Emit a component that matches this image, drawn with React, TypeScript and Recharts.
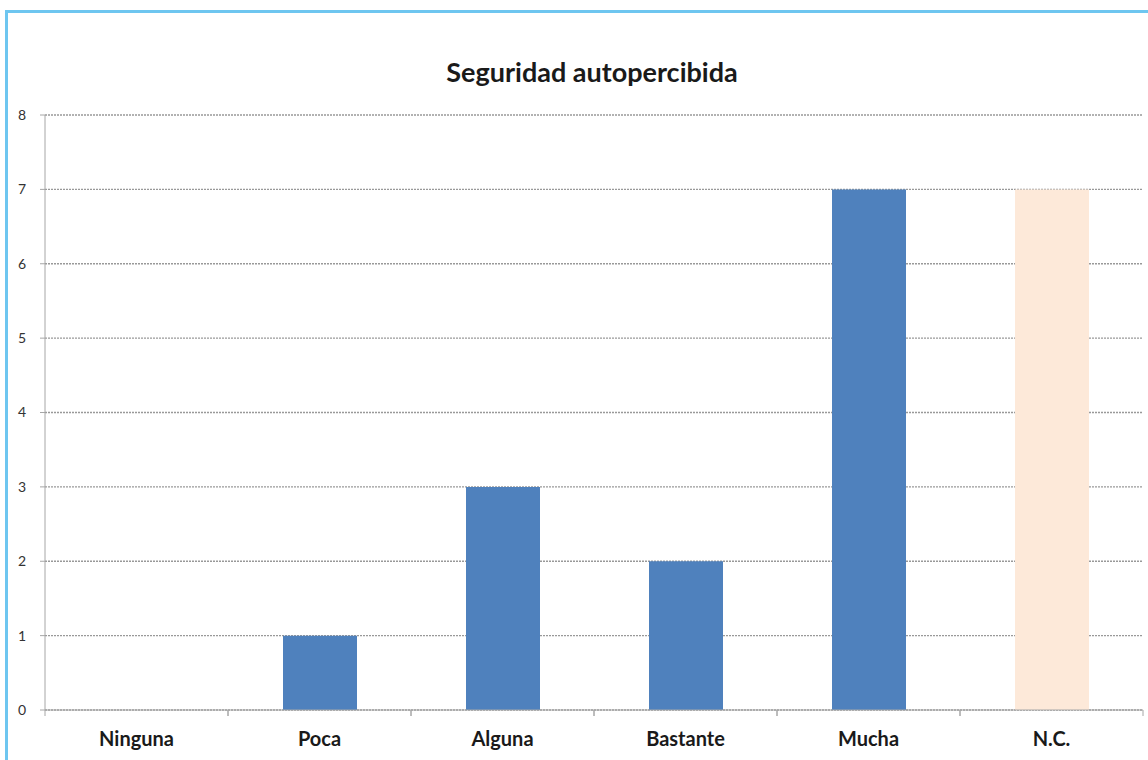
import { BarChart, Bar, XAxis, YAxis, CartesianGrid, Cell } from "recharts";

const categories = ["Ninguna", "Poca", "Alguna", "Bastante", "Mucha", "N.C."];
const values = [0, 1, 3, 2, 7, 7];
const yTicks = [0, 1, 2, 3, 4, 5, 6, 7, 8];
const barColors = ["#4f81bd", "#4f81bd", "#4f81bd", "#4f81bd", "#4f81bd", "#fde9d9"];

const data = categories.map((name, i) => ({ name, value: values[i] }));

const W = 1148;
const H = 760;
const PLOT_LEFT = 45;
const PLOT_RIGHT = 1143;
const BAND = (PLOT_RIGHT - PLOT_LEFT) / categories.length;

function CategoryTick(props: any) {
  const { x, y, payload } = props;
  const axisY = y - 8;
  return (
    <g>
      <line x1={x - BAND / 2} x2={x - BAND / 2} y1={axisY} y2={axisY + 6} stroke="#a6a6a6" />
      <line x1={x + BAND / 2} x2={x + BAND / 2} y1={axisY} y2={axisY + 6} stroke="#a6a6a6" />
      <text
        x={x}
        y={axisY + 36}
        textAnchor="middle"
        fontFamily="Lato, sans-serif"
        fontWeight="bold"
        fontSize={20}
        fill="#1a1a1a"
      >
        {payload.value}
      </text>
    </g>
  );
}

export default function App() {
  return (
    <div
      style={{
        position: "absolute",
        left: 0,
        top: 0,
        width: W,
        height: H,
        background: "#fff",
        overflow: "hidden",
      }}
    >
      <div
        style={{
          position: "absolute",
          left: 5,
          top: 10,
          width: W,
          height: H,
          borderLeft: "3px solid #6ec6f0",
          borderTop: "3px solid #6ec6f0",
          boxSizing: "border-box",
        }}
      />
      <div
        style={{
          position: "absolute",
          left: 0,
          width: W + 36,
          top: 55,
          textAlign: "center",
          fontFamily: "Lato, sans-serif",
          fontWeight: "bold",
          fontSize: 27,
          color: "#1a1a1a",
        }}
      >
        Seguridad autopercibida
      </div>
      <div style={{ position: "absolute", left: 0, top: 0 }}>
        <BarChart
          width={W}
          height={H}
          data={data}
          margin={{ top: 115, right: W - PLOT_RIGHT, bottom: 10, left: 15 }}
        >
          <CartesianGrid
            vertical={false}
            stroke="#999"
            strokeWidth={1.3}
            strokeDasharray="2 1"
          />
          <XAxis
            dataKey="name"
            height={40}
            axisLine={{ stroke: "#a6a6a6" }}
            tickLine={false}
            interval={0}
            tick={<CategoryTick />}
          />
          <YAxis
            width={30}
            domain={[0, 8]}
            ticks={yTicks}
            interval={0}
            axisLine={{ stroke: "#a6a6a6" }}
            tickLine={{ stroke: "#a6a6a6" }}
            tickSize={5}
            tickMargin={14}
            tick={{ fontFamily: "Lato, sans-serif", fontSize: 14, fill: "#333" }}
          />
          <Bar dataKey="value" barSize={74} isAnimationActive={false}>
            {data.map((d, i) => (
              <Cell key={d.name} fill={barColors[i]} />
            ))}
          </Bar>
        </BarChart>
      </div>
    </div>
  );
}
